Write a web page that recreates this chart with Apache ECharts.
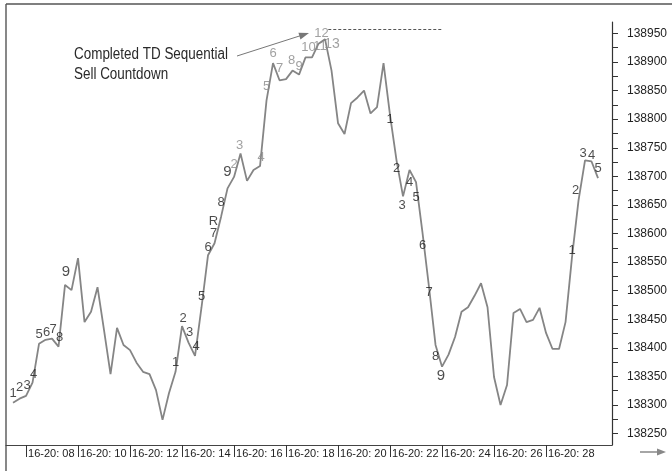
<!DOCTYPE html>
<html><head><meta charset="utf-8">
<script src="https://cdn.jsdelivr.net/npm/echarts@6/dist/echarts.min.js"></script>
<style>html,body{margin:0;padding:0;background:#fff}#c{width:672px;height:471px}</style>
</head><body><div id="c"></div>
<script>
// ---- data ----
const timeLabels = ['16-20: 08','16-20: 10','16-20: 12','16-20: 14','16-20: 16','16-20: 18','16-20: 20','16-20: 22','16-20: 24','16-20: 26','16-20: 28'];
const timeLabelBars = [2,10,18,26,34,42,50,58,66,74,82];
const prices = [
 138304,138311,138316,138339,138407,138414,138416,138402,138510,138501,
 138557,138445,138463,138506,138431,138354,138435,138405,138396,138374,
 138358,138354,138326,138274,138321,138358,138438,138409,138386,138471,
 138562,138583,138629,138679,138699,138740,138692,138711,138718,138833,
 138898,138868,138870,138885,138878,138908,138908,138932,138940,138885,
 138793,138774,138828,138838,138850,138810,138821,138898,138807,138728,
 138665,138711,138690,138601,138506,138405,138367,138388,138419,138463,
 138471,138491,138513,138471,138349,138300,138335,138461,138468,138445,
 138449,138470,138426,138398,138398,138445,138559,138658,138728,138726,
 138697];
const yMajorTicks = [138250,138300,138350,138400,138450,138500,138550,138600,138650,138700,138750,138800,138850,138900,138950];
const yMinorTicks = [138275,138325,138375,138425,138475,138525,138575,138625,138675,138725,138775,138825,138875,138925];
// setup counts: [bar, text]
const setupCounts = [
 [0,'1'],[1,'2'],[2,'3'],[3,'4'],[4,'5'],[5,'6'],[6,'7'],[7,'8'],[8,'9'],
 [25,'1'],[26,'2'],[27,'3'],[28,'4'],[29,'5'],[30,'6'],[31,'7'],[31,'R'],[32,'8'],[33,'9'],
 [58,'1'],[59,'2'],[60,'3'],[61,'4'],[62,'5'],[63,'6'],[64,'7'],[65,'8'],[66,'9'],
 [86,'1'],[87,'2'],[88,'3'],[89,'4'],[90,'5']];
// countdown counts: [bar, text]
const countdownCounts = [
 [34,'2'],[35,'3'],[38,'4'],[39,'5'],[40,'6'],[41,'7'],[43,'8'],[44,'9'],[45,'10'],[46,'11'],[47,'12'],[48,'13']];
const countdownHigh = 138957;
const countdownLineBars = [48.5, 66];
const annotationText = 'Completed TD Sequential\nSell Countdown';

// ---- styles (label offsets in px, relative to the bar's point) ----
const setupOffsets = [
 [0,-9],[0,-11],[1,-10],[1,-8],[0,-9],[1,-7],[1,-9],[1,-9],[1,-13],
 [0,-9],[1,-8],[1,-10],[1,-9],[0,-11],[0,-8],[-1,-10],[-1,-22],[0,-15],[0,-16],
 [0,4],[0,8],[-1,9],[0,12],[0,15],[0,12],[0,5],[0,11],[-1,9],
 [0,-7],[-3,-10],[-2,-7],[0,-6],[0,-10]];
const countdownOffsets = [
 [0,-12],[-1,-8],[1,-9],[0,-14],[0,-10],[0,-12],[-1,-10],[0,-8],[3,-10],[8,-11],[3,-10],[7,5]];

const FONT = '"Liberation Sans", Arial, sans-serif';

const chart = echarts.init(document.getElementById('c'), null, {renderer:'canvas'});

const setupData = setupCounts.map((c,i)=>({
  value:[c[0], prices[c[0]]],
  label:{formatter:c[1], offset:setupOffsets[i], fontSize: c[1]==='9' ? 15 : 13}
}));
const countdownData = countdownCounts.map((c,i)=>({
  value:[c[0], prices[c[0]]],
  label:{formatter:c[1], offset:countdownOffsets[i], fontSize: c[1]==='13' ? 14 : 13}
}));

chart.setOption({
  animation:false,
  backgroundColor:'#fff',
  grid:{left:6, right:60, top:22, bottom:26},
  xAxis:{
    type:'value', min:-1.08, max:92.15,
    axisLine:{show:true, onZero:false, lineStyle:{color:'#444', width:1.2}},
    axisTick:{show:true, customValues:timeLabelBars, length:12, lineStyle:{color:'#333', width:1}},
    axisLabel:{show:true, customValues:timeLabelBars, showMinLabel:true, showMaxLabel:true,
      align:'left', margin:3, padding:[0,0,0,2],
      fontSize:11, fontFamily:FONT, color:'#222',
      formatter:v=>timeLabels[timeLabelBars.indexOf(v)]},
    splitLine:{show:false}
  },
  yAxis:{
    type:'value', position:'right', min:138230, max:138970,
    axisLine:{show:true, onZero:false, lineStyle:{color:'#333', width:1.2}},
    axisTick:{show:true, customValues:yMajorTicks.concat(yMinorTicks), length:6, lineStyle:{color:'#333'}},
    axisLabel:{show:true, customValues:yMajorTicks, showMinLabel:true, showMaxLabel:true,
      margin:15, fontSize:12, fontFamily:FONT, color:'#222',
      formatter:v=>String(v)},
    splitLine:{show:false}
  },
  series:[
    {type:'line', data:prices.map((v,i)=>[i,v]), showSymbol:false, symbol:'none',
     lineStyle:{color:'#858585', width:1.8}, z:2,
     markLine:{silent:true, symbol:['none','circle'], symbolSize:[0,4], animation:false,
       lineStyle:{type:[3,2], color:'#555', width:1}, label:{show:false},
       data:[[{coord:[countdownLineBars[0],countdownHigh]},{coord:[countdownLineBars[1],countdownHigh]}]]}},
    {type:'scatter', data:setupData, symbol:'circle', symbolSize:1, itemStyle:{color:'rgba(0,0,0,0)'}, z:3,
     label:{show:true, position:'inside', color:'#1e1e1e', fontFamily:FONT}},
    {type:'scatter', data:countdownData, symbol:'circle', symbolSize:1, itemStyle:{color:'rgba(0,0,0,0)'}, z:3,
     label:{show:true, position:'inside', color:'#8a8a8a', fontFamily:FONT}}
  ],
  graphic:[
    {type:'line', shape:{x1:6,y1:4,x2:672,y2:4}, style:{stroke:'#555', lineWidth:1.6}},
    {type:'line', shape:{x1:6,y1:4,x2:6,y2:471}, style:{stroke:'#555', lineWidth:1.4}},
    {type:'text', x:74, y:45, scaleX:0.84, style:{text:annotationText, font:'16px '+FONT, fill:'#2a2a2a', lineHeight:20}},
    {type:'line', shape:{x1:237,y1:56,x2:301,y2:35.5}, style:{stroke:'#777', lineWidth:1}},
    {type:'polygon', shape:{points:[[309,33],[300.5,39.4],[298.4,32.7]]}, style:{fill:'#777'}},
    {type:'line', shape:{x1:640,y1:452,x2:659,y2:452}, style:{stroke:'#888', lineWidth:1.5}},
    {type:'polygon', shape:{points:[[666,452],[657,448.5],[657,455.5]]}, style:{fill:'#888'}}
  ]
});
</script></body></html>
